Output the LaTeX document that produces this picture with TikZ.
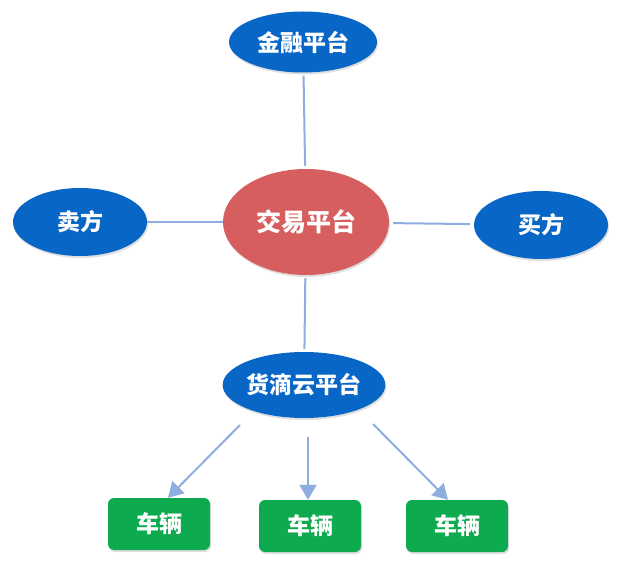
\documentclass[tikz,border=0pt]{standalone}
\usepackage{fontspec}
\newfontfamily\cjk{Noto Sans CJK SC}
\usetikzlibrary{shapes.geometric,arrows.meta,shadows}
\definecolor{platblue}{HTML}{0866C6}
\definecolor{tradered}{HTML}{D65E5E}
\definecolor{cargreen}{HTML}{0EAA4F}
\definecolor{linkblue}{HTML}{8DAEDF}
\tikzset{
  plat/.style={ellipse, fill=platblue, text=white, inner sep=0pt,
    font=\cjk\bfseries\fontsize{23}{26}\selectfont,
    drop shadow={opacity=0.25, shadow xshift=1pt, shadow yshift=-2pt}},
  trade/.style={plat, fill=tradered, font=\cjk\bfseries\fontsize{25}{28}\selectfont},
  car/.style={rectangle, rounded corners=6pt, fill=cargreen, text=white,
    minimum width=102pt, minimum height=52pt, inner sep=0pt,
    font=\cjk\bfseries\fontsize{23}{26}\selectfont,
    drop shadow={opacity=0.25, shadow xshift=1pt, shadow yshift=-2pt}},
  link/.style={draw=linkblue, line width=2pt},
  feed/.style={link, -{Triangle[length=15pt,width=17pt]}}
}
\begin{document}
\begin{tikzpicture}[x=1pt,y=-1pt]
  \useasboundingbox (0,0) rectangle (624,569);
  \node[plat, minimum width=148pt, minimum height=61pt] (finance) at (303,42) {金融平台};
  \node[plat, minimum width=134pt, minimum height=68pt] (seller) at (80,222) {卖方};
  \node[trade, minimum width=166pt, minimum height=106pt] (market) at (306,222) {交易平台};
  \node[plat, minimum width=134pt, minimum height=68pt] (buyer) at (541,225) {买方};
  \node[plat, minimum width=162pt, minimum height=66pt] (hub) at (304,385) {货滴云平台};
  \node[car] (car1) at (159,524) {车辆};
  \node[car] (car2) at (310,526) {车辆};
  \node[car] (car3) at (457,526) {车辆};
  \coordinate (out1) at (240,425);
  \coordinate (out2) at (308,437);
  \coordinate (out3) at (373,424);
  \draw[link, shorten <=3pt, shorten >=3pt] (finance) -- (market);
  \draw[link] (seller) -- (market);
  \draw[link, shorten <=4pt, shorten >=4pt] (market) -- (buyer);
  \draw[link, shorten <=3pt, shorten >=3pt] (market) -- (hub);
  \draw[feed] (out1) -- ([xshift=9pt]car1.north);
  \draw[feed] (out2) -- (out2 |- car2.north);
  \draw[feed] (out3) -- ([xshift=-9pt]car3.north);
\end{tikzpicture}
\end{document}
